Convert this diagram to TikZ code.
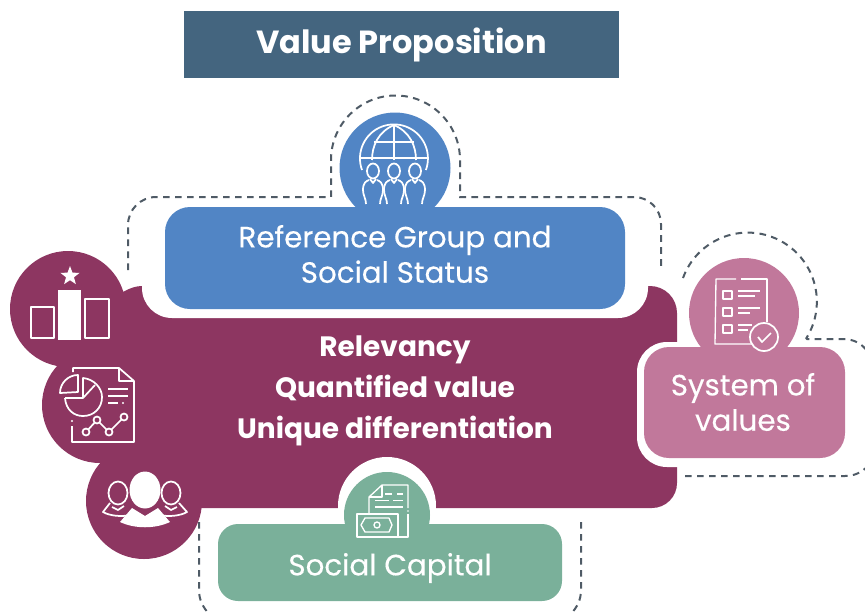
\documentclass[tikz,border=0pt]{standalone}
\usepackage{fontspec}
\setmainfont{Poppins}
\newfontfamily\cardfont[FakeBold=0.3]{Poppins}
\usetikzlibrary{shapes.geometric}
\definecolor{titlecol}{HTML}{44657F}
\definecolor{bodycol}{HTML}{8D3661}
\definecolor{bluecol}{HTML}{5185C5}
\definecolor{pinkcol}{HTML}{C1789B}
\definecolor{greencol}{HTML}{7AB09A}
\definecolor{dashcol}{HTML}{4F5B66}
\tikzset{card/.style = {shape=rectangle,rounded corners=25*0.75pt,inner sep=0pt,text=white}}
\tikzset{halo/.style = {card,fill=white,rounded corners=30*0.75pt}}
\tikzset{cardtext/.style = {text=white,align=center,font=\cardfont\fontsize{22}{26.5}\selectfont}}
\tikzset{bodytext/.style = {text=white,align=center,font=\bfseries\fontsize{21}{31}\selectfont}}
\tikzset{dashline/.style = {draw=dashcol,line width=1.5pt,dash pattern=on 5pt off 4pt}}
\tikzset{iconline/.style = {draw=white,line width=1.3pt,line join=round}}
\tikzset{thinline/.style = {draw=white,line width=1pt,line join=round}}
\begin{document}
\begin{tikzpicture}[x=0.75pt,y=-0.75pt]
                \useasboundingbox (0,0) rectangle (865,612);
                \clip (0,0) rectangle (865,612);

                % title
                \node[fill=titlecol,minimum width=435*0.75pt,minimum height=67*0.75pt,inner sep=0pt,text=white,font=\bfseries\fontsize{24}{28}\selectfont] (title) at (401.5,44.5) {Value Proposition};

                % dashed outlines
                \draw[dashline] (128,270) -- (128,225) arc (180:270:28) -- (331,197) -- (331,160) arc (180:360:64.5) -- (460,197) -- (634,197) arc (270:360:27) -- (661,270);
                \draw[dashline] (683,278) arc (200:392:69) -- (807,339) -- (842,339) .. controls (855,339) and (862,344) .. (868,352);
                \draw[dashline] (685,476) -- (845,476) .. controls (855,476) and (862,472) .. (868,466);
                \draw[dashline] (199,522) -- (199,590) .. controls (199,600) and (203,607) .. (209,614);
                \draw[dashline] (581,522) -- (581,590) .. controls (581,600) and (577,607) .. (571,614);

                % maroon body
                \fill[bodycol] (105,295) -- (123,292) .. controls (130,288) and (136,286) .. (142,286) -- (650,286) arc (270:360:27) -- (677,483) arc (0:90:25) -- (105,508) -- cycle;
                \fill[bodycol] (68,309) circle (58);
                \fill[bodycol] (100,405) circle (58);
                \fill[bodycol] (144,501) circle (58);

                % white gaps
                \node[halo,minimum width=506*0.75pt,minimum height=88*0.75pt] (refGap) at (395,274) {};
                \node[halo,minimum width=163*0.75pt,minimum height=125*0.75pt] (valGap) at (718.5,404.5) {};
                \fill[white] (387,506) circle (49);

                % blue card
                \fill[bluecol] (395,168) circle (55.5);
                \node[card,fill=bluecol,minimum width=460*0.75pt,minimum height=102*0.75pt] (ref) at (395,258) {};
                \node[cardtext] (refText) at (395,254) {Reference Group and\\Social Status};

                % pink card
                \fill[pinkcol] (744,313) circle (55);
                \node[card,fill=pinkcol,minimum width=201*0.75pt,minimum height=111*0.75pt] (val) at (744.5,402.5) {};
                \node[cardtext] (valText) at (743,402) {System of\\values};

                % green card
                \fill[greencol] (387,515) circle (43);
                \node[card,fill=greencol,rounded corners=20*0.75pt,minimum width=344*0.75pt,minimum height=77*0.75pt] (cap) at (390,562.5) {};
                \node[cardtext] (capText) at (390,568) {Social Capital};

                % centre text
                \node[bodytext] (bodyText) at (395,391) {Relevancy\\Quantified value\\Unique differentiation};

                % globe and people
                \draw[iconline] (362,170) arc (160:380:34);
                \draw[iconline] (360,158) -- (428,158) (374,142) -- (414,142) (394,125) -- (394,160);
                \draw[iconline] (394,125) .. controls (378,132) and (372,146) .. (372,160);
                \draw[iconline] (394,125) .. controls (410,132) and (416,146) .. (416,160);
                \foreach \px in {373,394,415} {
                    \draw[iconline,fill=bluecol] (\px,171) ellipse (6 and 7.5);
                    \draw[iconline] (\px-3,179) -- (\px,183) -- (\px+3,179);
                    \draw[iconline] (\px-7,204) .. controls (\px-7,198) and (\px-10,196) .. (\px-10,190) .. controls (\px-10,183) and (\px-7,181) .. (\px-4,180);
                    \draw[iconline] (\px+7,204) .. controls (\px+7,198) and (\px+10,196) .. (\px+10,190) .. controls (\px+10,183) and (\px+7,181) .. (\px+4,180);
                }

                % ranking bars
                \node[star,star points=5,star point ratio=2.4,fill=white,inner sep=0pt,minimum size=20*0.75pt] (rankStar) at (70,276) {};
                \fill[white] (58,290) rectangle (81,340);
                \draw[iconline] (31,307) rectangle (54,338);
                \draw[iconline] (85,299) rectangle (109,338);

                % report
                \draw[iconline] (73,372) -- (73,368) -- (119,368) -- (134,381) -- (134,442) -- (72,442) -- (72,426);
                \draw[iconline] (119,368) -- (119,381) -- (134,381);
                \fill[white] (72,421) circle (1.2);
                \draw[iconline] (78,375) arc (270:180:18) -- (78,392) -- cycle;
                \draw[iconline] (65,392) arc (180:-60:0 and 0) (65,398) .. controls (66,410) and (74,416) .. (83,416) .. controls (94,416) and (102,408) .. (102,397) .. controls (102,388) and (94,379) .. (83,378) -- (83,398) -- (65,398);
                \draw[iconline] (83,398) -- (95,385);
                \draw[iconline] (108,389) -- (128,389) (108,396) -- (128,396) (108,403) -- (118,403);
                \fill[white] (123,403) circle (1.2);
                \draw[iconline] (86,432) -- (97,420) -- (109,432) -- (124,417);
                \foreach \px/\py in {86/432,97/420,109/432,124/417} {
                    \draw[iconline,fill=bodycol] (\px,\py) circle (3.5);
                }

                % people
                \draw[iconline] (118,493) ellipse (9.5 and 11.5);
                \draw[iconline] (171,493) ellipse (9.5 and 11.5);
                \draw[iconline] (110,503) -- (103,512) .. controls (110,516) and (122,517) .. (130,515);
                \draw[iconline] (179,503) -- (187,512) .. controls (180,516) and (168,517) .. (160,515);
                \draw[iconline] (112,507) -- (118,510) -- (124,506);
                \draw[iconline] (177,507) -- (171,510) -- (165,506);
                \fill[white] (145,490) ellipse (15.5 and 18.5);
                \fill[white] (120,522) -- (132,508) -- (145,516) -- (158,508) -- (170,522) .. controls (155,529) and (135,529) .. (120,522) -- cycle;

                % checklist
                \draw[thinline] (736,279) -- (716,279) -- (715,344) -- (752,344);
                \draw[thinline] (741,279) -- (767,279) -- (767,322);
                \foreach \py in {291,308,325} {
                    \draw[thinline] (723,\py) rectangle (732,\py+8);
                }
                \draw[thinline] (738,291) -- (760,291) (738,296) -- (755,296) (738,308) -- (760,308) (738,313) -- (750,313) (738,325) -- (752,325) (738,330) -- (748,330);
                \draw[iconline,fill=pinkcol] (764,337) circle (14);
                \draw[iconline] (758,337) -- (762,342) -- (771,333);

                % money and paper
                \draw[thinline] (369,514) -- (369,497) -- (382,485) -- (408,485) -- (408,508);
                \draw[thinline] (382,485) -- (382,497) -- (369,497);
                \fill[white] (408,511) circle (0.8);
                \draw[thinline] (408,514) -- (408,537) -- (398,537);
                \draw[thinline] (385,494) -- (392,494) (397,494) -- (403,494) (375,500.5) -- (389,500.5) (393,500.5) -- (403,500.5) (375,507) -- (403,507);
                \draw[thinline] (357,514) rectangle (398,537);
                \draw[thinline] (365,518) -- (389,518) -- (392,525) -- (389,532) -- (365,532) -- (361,525) -- cycle;
                \draw[thinline] (377,525) circle (3);
            \end{tikzpicture}
\end{document}
